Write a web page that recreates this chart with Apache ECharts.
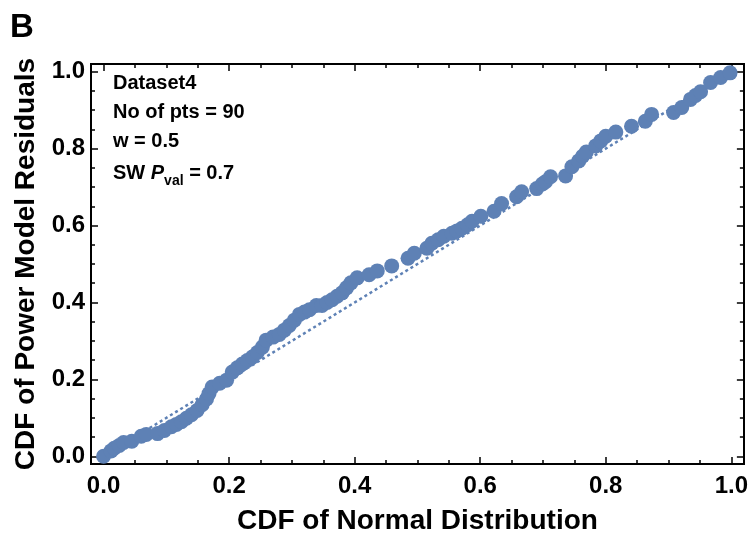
<!DOCTYPE html>
<html>
<head>
<meta charset="utf-8">
<script src="https://cdn.jsdelivr.net/npm/echarts@6/dist/echarts.min.js"></script>
<style>
  html, body { margin: 0; padding: 0; background: #fff; }
  #chart { width: 751px; height: 540px; }
</style>
</head>
<body>
<div id="chart"></div>
<script>
// P-P plot values
var normalCdf = [
  0.000, 0.012, 0.017, 0.025, 0.032, 0.045, 0.060, 0.068, 0.086, 0.097,
  0.108, 0.116, 0.124, 0.132, 0.140, 0.149, 0.157, 0.164, 0.168, 0.173,
  0.185, 0.196, 0.205, 0.213, 0.221, 0.229, 0.237, 0.245, 0.253, 0.259,
  0.270, 0.280, 0.288, 0.296, 0.304, 0.312, 0.320, 0.328, 0.339, 0.348,
  0.356, 0.364, 0.372, 0.380, 0.387, 0.394, 0.404, 0.423, 0.436, 0.459,
  0.485, 0.495, 0.515, 0.523, 0.533, 0.542, 0.555, 0.563, 0.571, 0.580,
  0.587, 0.601, 0.622, 0.634, 0.658, 0.666, 0.690, 0.699, 0.704, 0.712,
  0.736, 0.746, 0.757, 0.763, 0.769, 0.784, 0.792, 0.800, 0.816, 0.841,
  0.863, 0.873, 0.908, 0.921, 0.935, 0.943, 0.951, 0.967, 0.983, 0.998
];
var residualCdf = [
  0.000, 0.014, 0.021, 0.028, 0.036, 0.039, 0.052, 0.057, 0.059, 0.067,
  0.077, 0.083, 0.090, 0.099, 0.108, 0.119, 0.134, 0.149, 0.163, 0.180,
  0.190, 0.198, 0.219, 0.230, 0.240, 0.249, 0.258, 0.270, 0.284, 0.302,
  0.310, 0.317, 0.328, 0.340, 0.354, 0.369, 0.375, 0.381, 0.392, 0.392,
  0.400, 0.407, 0.416, 0.425, 0.438, 0.451, 0.464, 0.472, 0.482, 0.495,
  0.515, 0.528, 0.541, 0.554, 0.563, 0.572, 0.580, 0.586, 0.593, 0.602,
  0.611, 0.624, 0.637, 0.657, 0.675, 0.688, 0.696, 0.708, 0.714, 0.727,
  0.729, 0.753, 0.768, 0.780, 0.791, 0.807, 0.820, 0.832, 0.843, 0.858,
  0.871, 0.889, 0.894, 0.907, 0.928, 0.938, 0.948, 0.972, 0.985, 0.997
];
var refLineX = [0, 1];
var refLineY = [0, 1];

var majorTicks = [0, 0.2, 0.4, 0.6, 0.8, 1.0];
var minorTicks = [0.05, 0.1, 0.15, 0.25, 0.3, 0.35, 0.45, 0.5, 0.55, 0.65, 0.7, 0.75, 0.85, 0.9, 0.95];

var panelLabel = 'B';
var noteLines = ['Dataset4', 'No of pts = 90', 'w = 0.5'];
var xTitle = 'CDF of Normal Distribution';
var yTitle = 'CDF of Power Model Residuals';

var blue = '#5e81b5';
var font = '"Liberation Sans", Arial, sans-serif';

var points = [];
for (var i = 0; i < normalCdf.length; i++) {
  points.push([normalCdf[i], residualCdf[i]]);
}
var diag = [];
for (var j = 0; j < refLineX.length; j++) {
  diag.push([refLineX[j], refLineY[j]]);
}

function axis(pos, ticks, len, labels) {
  return {
    type: 'value',
    position: pos,
    min: -0.02,
    max: 1.02,
    axisLine: { show: true, onZero: false, lineStyle: { color: '#000', width: 2 } },
    axisTick: {
      show: true, inside: true, length: len, customValues: ticks,
      lineStyle: { color: '#000', width: 1.5 }
    },
    axisLabel: {
      show: labels, customValues: ticks,
      formatter: function (v) { return v.toFixed(1); },
      fontSize: 24, fontWeight: 'bold', color: '#000', fontFamily: font,
      margin: (pos === 'bottom') ? 10 : 6
    },
    splitLine: { show: false }
  };
}

var xMain = axis('bottom', majorTicks, 7, true);
xMain.name = xTitle;
xMain.nameLocation = 'middle';
xMain.nameGap = 43;
xMain.nameTextStyle = { fontSize: 28, fontWeight: 'bold', color: '#000', fontFamily: font };

var yMain = axis('left', majorTicks, 7, true);
yMain.name = yTitle;
yMain.nameLocation = 'middle';
yMain.nameGap = 50;
yMain.nameTextStyle = { fontSize: 28, fontWeight: 'bold', color: '#000', fontFamily: font };

var option = {
  animation: false,
  backgroundColor: '#fff',
  grid: { left: 91, right: 5.5, top: 64, bottom: 73, containLabel: false },
  xAxis: [
    xMain,
    axis('bottom', minorTicks, 4, false),
    axis('top', majorTicks, 7, false),
    axis('top', minorTicks, 4, false)
  ],
  yAxis: [
    yMain,
    axis('left', minorTicks, 4, false),
    axis('right', majorTicks, 7, false),
    axis('right', minorTicks, 4, false)
  ],
  graphic: [
    {
      type: 'text', left: 10, top: 11,
      style: { text: panelLabel, fontSize: 33, fontWeight: 'bold', fill: '#000', fontFamily: font }
    },
    {
      type: 'text', x: 113, y: 83,
      style: { text: noteLines[0], fontSize: 20, fontWeight: 'bold', fill: '#000', fontFamily: font, verticalAlign: 'middle' }
    },
    {
      type: 'text', x: 113, y: 112,
      style: { text: noteLines[1], fontSize: 20, fontWeight: 'bold', fill: '#000', fontFamily: font, verticalAlign: 'middle' }
    },
    {
      type: 'text', x: 113, y: 141,
      style: { text: noteLines[2], fontSize: 20, fontWeight: 'bold', fill: '#000', fontFamily: font, verticalAlign: 'middle' }
    },
    {
      type: 'text', x: 113, y: 170,
      style: {
        text: '{a|SW }{p|P}{s|val}{a| = 0.7}',
        verticalAlign: 'middle',
        rich: {
          a: { fontSize: 20, fontWeight: 'bold', fill: '#000', fontFamily: font, lineHeight: 26, verticalAlign: 'bottom' },
          p: { fontSize: 20, fontWeight: 'bold', fontStyle: 'italic', fill: '#000', fontFamily: font, lineHeight: 26, verticalAlign: 'bottom' },
          s: { fontSize: 14, fontWeight: 'bold', fill: '#000', fontFamily: font, lineHeight: 14, verticalAlign: 'bottom', padding: [0, 0, -5, 0] }
        }
      }
    }
  ],
  series: [
    {
      type: 'line',
      data: diag,
      symbol: 'none',
      lineStyle: { color: blue, width: 2.5, type: [3, 3] },
      z: 1,
      silent: true
    },
    {
      type: 'scatter',
      data: points,
      symbolSize: 15,
      itemStyle: { color: blue, opacity: 1 },
      z: 2
    }
  ]
};

var chart = echarts.init(document.getElementById('chart'), null, { renderer: 'canvas' });
chart.setOption(option);
</script>
</body>
</html>
